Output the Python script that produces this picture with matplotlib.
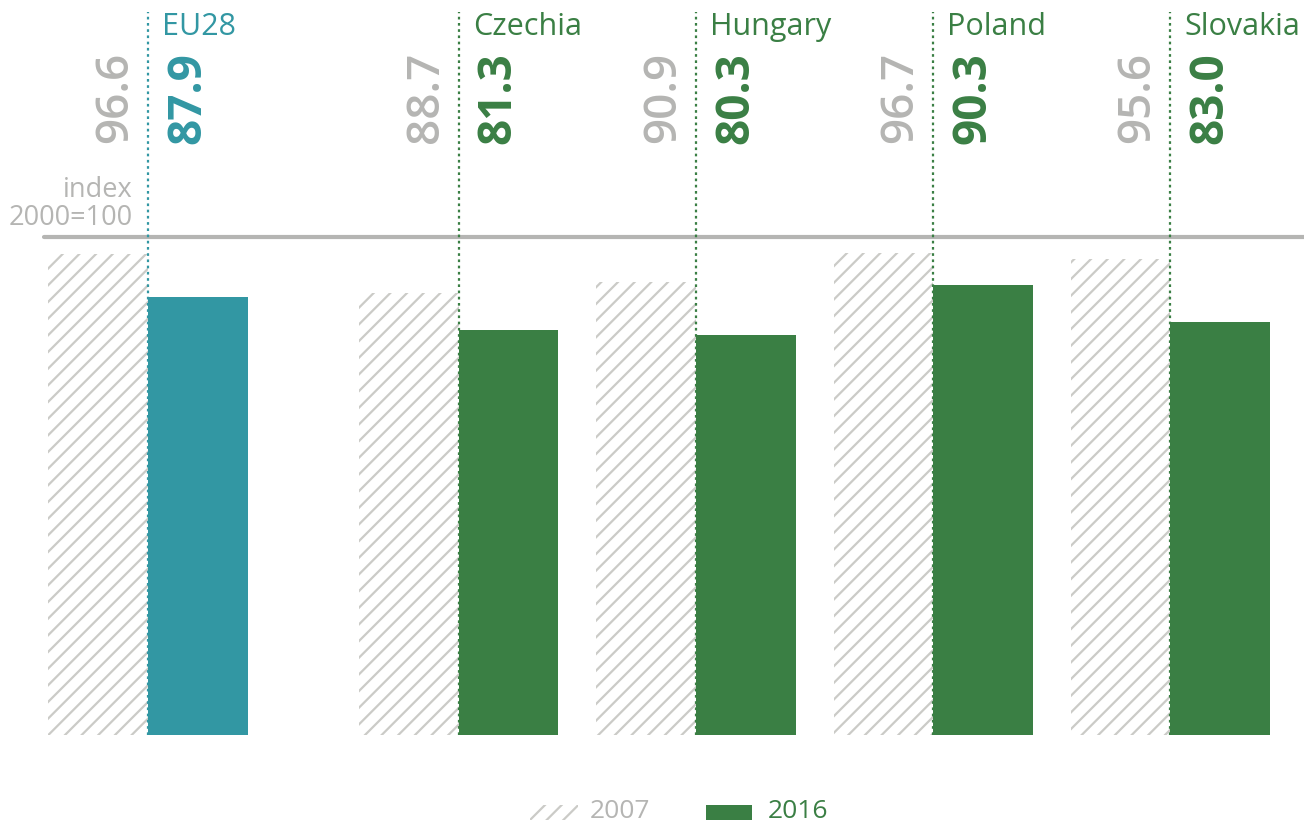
import matplotlib.pyplot as plt
from matplotlib.patches import Rectangle

plt.rcParams['font.family'] = ['Open Sans', 'DejaVu Sans']
plt.rcParams['hatch.linewidth'] = 1.6

countries = ['EU28', 'Czechia', 'Hungary', 'Poland', 'Slovakia']
val_2007 = [96.6, 88.7, 90.9, 96.7, 95.6]
val_2016 = [87.9, 81.3, 80.3, 90.3, 83.0]

TEAL = '#3297a3'
GREEN = '#3a7f44'
GREY = '#b5b5b3'
HATCH = '#cbcbc7'

# EU28 sits a bit further apart from the country group
pos = [0, 1.31, 2.31, 3.31, 4.31]
width = 0.42
colors = [TEAL] + [GREEN] * 4

W, H = 1304, 822
fig = plt.figure(figsize=(W / 100, H / 100), dpi=100)
ax = fig.add_axes([0, 0, 1, 1])

# 237 px per group unit, 4.98 px per index point, baseline at 735 px
ux, uy = 237.2, 4.98
x0, y0 = 148.0, 735.0
ax.set_xlim(-x0 / ux, (W - x0) / ux)
ax.set_ylim(-(H - y0) / uy, y0 / uy)
ax.axis('off')


def px(x, y):
    return (x - x0) / ux, (y0 - y) / uy


ax.bar([p - width / 2 for p in pos], val_2007, width, color='white',
       edgecolor=HATCH, hatch='//', linewidth=0)
ax.bar([p + width / 2 for p in pos], val_2016, width, color=colors, linewidth=0)

ax.plot([px(44, 0)[0], px(W, 0)[0]], [100, 100], color=GREY, lw=3, solid_capstyle='round')
ax.text(*px(133, 190), 'index', ha='right', va='center', color=GREY, fontsize=19.5)
ax.text(*px(133, 218), '2000=100', ha='right', va='center', color=GREY, fontsize=19.5)

for p, name, a, b, c in zip(pos, countries, val_2007, val_2016, colors):
    ax.plot([p, p], [0, px(0, 12)[1]], color=c, lw=1.6, ls=(0, (1.2, 1.6)))
    ax.text(p + 14 / ux, px(0, 27)[1], name, ha='left', va='center', color=c, fontsize=22)
    ax.text(p - 10 / ux, px(0, 52)[1], f'{a:.1f}', rotation=90, ha='right', va='top',
            color=GREY, fontsize=33, fontweight='semibold')
    ax.text(p + 16 / ux, px(0, 52)[1], f'{b:.1f}', rotation=90, ha='left', va='top',
            color=c, fontsize=33, fontweight='bold')

# legend
lx, ly = px(530, 820)
ax.add_patch(Rectangle((lx, ly), 48 / ux, 15 / uy, facecolor='white', edgecolor=HATCH,
                       hatch='//', linewidth=0, clip_on=False))
ax.text(*px(590, 811), '2007', ha='left', va='center', color=GREY, fontsize=19)
gx, gy = px(706, 820)
ax.add_patch(Rectangle((gx, gy), 46 / ux, 15 / uy, facecolor=GREEN, linewidth=0, clip_on=False))
ax.text(*px(768, 811), '2016', ha='left', va='center', color=GREEN, fontsize=19)

fig.savefig('out.png', dpi=100)
